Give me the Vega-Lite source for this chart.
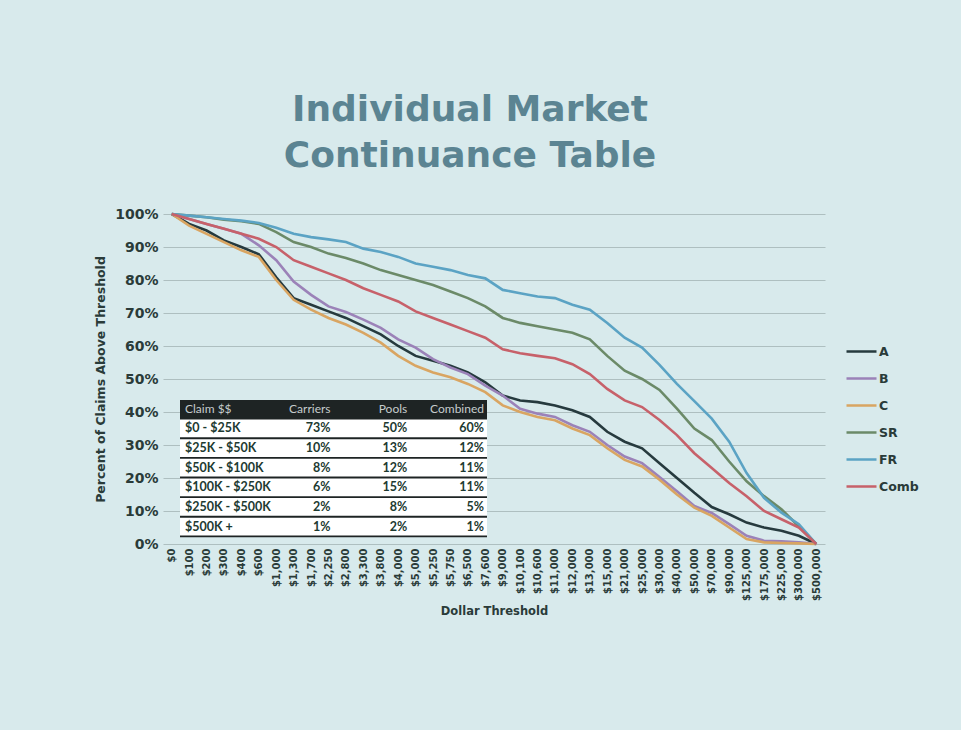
{
  "$schema": "https://vega.github.io/schema/vega-lite/v6.json",
  "width": 662,
  "height": 330,
  "autosize": {"type": "none"},
  "padding": {"left": 163, "top": 214, "right": 136, "bottom": 186},
  "background": "#d8eaec",
  "title": {
    "text": ["Individual Market", "Continuance Table"],
    "fontSize": 36,
    "font": "DejaVu Sans",
    "fontWeight": "bold",
    "color": "#5b8492",
    "lineHeight": 46,
    "offset": 32,
    "dx": -24,
    "anchor": "middle"
  },
  "datasets": {
    "curve": [
      {"t":"$0","A":100,"B":100,"C":100,"SR":100,"FR":100,"Comb":100},
      {"t":"$100","A":97,"B":98.5,"C":96.5,"SR":99.5,"FR":99.5,"Comb":98.5},
      {"t":"$200","A":95,"B":97,"C":94,"SR":99,"FR":99,"Comb":97},
      {"t":"$300","A":92,"B":95.5,"C":91.5,"SR":98.3,"FR":98.5,"Comb":95.5},
      {"t":"$400","A":90,"B":94,"C":89,"SR":97.8,"FR":98,"Comb":94},
      {"t":"$600","A":87.8,"B":90.5,"C":87,"SR":97,"FR":97.3,"Comb":92.5},
      {"t":"$1,000","A":80.8,"B":86,"C":80,"SR":94.5,"FR":95.8,"Comb":90},
      {"t":"$1,300","A":74.5,"B":79.5,"C":74,"SR":91.5,"FR":94,"Comb":86},
      {"t":"$1,700","A":72.5,"B":75.5,"C":71,"SR":90,"FR":93,"Comb":84},
      {"t":"$2,250","A":70.5,"B":72,"C":68.5,"SR":88,"FR":92.3,"Comb":82},
      {"t":"$2,800","A":68.5,"B":70.3,"C":66.5,"SR":86.7,"FR":91.5,"Comb":80},
      {"t":"$3,300","A":66,"B":68,"C":64,"SR":85,"FR":89.5,"Comb":77.5},
      {"t":"$3,800","A":63.5,"B":65.5,"C":61,"SR":83,"FR":88.5,"Comb":75.5},
      {"t":"$4,000","A":60,"B":62,"C":57,"SR":81.5,"FR":87,"Comb":73.5},
      {"t":"$5,000","A":57,"B":59.5,"C":54,"SR":80,"FR":85,"Comb":70.5},
      {"t":"$5,250","A":55.5,"B":56,"C":52,"SR":78.5,"FR":84,"Comb":68.5},
      {"t":"$5,750","A":54,"B":53.5,"C":50.5,"SR":76.5,"FR":83,"Comb":66.5},
      {"t":"$6,500","A":52,"B":51.5,"C":48.5,"SR":74.5,"FR":81.5,"Comb":64.5},
      {"t":"$7,600","A":49,"B":48,"C":46,"SR":72,"FR":80.5,"Comb":62.5},
      {"t":"$9,000","A":45,"B":45,"C":42,"SR":68.5,"FR":77,"Comb":59},
      {"t":"$10,100","A":43.5,"B":41,"C":40,"SR":67,"FR":76,"Comb":57.8},
      {"t":"$10,600","A":43,"B":39.5,"C":38.5,"SR":66,"FR":75,"Comb":57},
      {"t":"$11,000","A":42,"B":38.5,"C":37.5,"SR":65,"FR":74.5,"Comb":56.3},
      {"t":"$12,000","A":40.5,"B":36,"C":35,"SR":64,"FR":72.5,"Comb":54.5},
      {"t":"$13,000","A":38.5,"B":34,"C":33,"SR":62,"FR":71,"Comb":51.5},
      {"t":"$15,000","A":34,"B":30,"C":29,"SR":57,"FR":67,"Comb":47},
      {"t":"$21,000","A":31,"B":26.5,"C":25.5,"SR":52.5,"FR":62.5,"Comb":43.5},
      {"t":"$25,000","A":29,"B":24.5,"C":23.5,"SR":50,"FR":59.5,"Comb":41.5},
      {"t":"$30,000","A":24.5,"B":20.3,"C":19.5,"SR":46.7,"FR":54.3,"Comb":37.6},
      {"t":"$40,000","A":20,"B":16,"C":15,"SR":41,"FR":48.5,"Comb":33},
      {"t":"$50,000","A":15.5,"B":11.5,"C":11,"SR":35,"FR":43.3,"Comb":27.5},
      {"t":"$70,000","A":11.2,"B":9.4,"C":8.5,"SR":31.5,"FR":38,"Comb":23},
      {"t":"$90,000","A":9,"B":6,"C":5,"SR":25,"FR":31,"Comb":18.5},
      {"t":"$125,000","A":6.5,"B":2.5,"C":1.5,"SR":19,"FR":21.5,"Comb":14.5},
      {"t":"$175,000","A":5,"B":1,"C":0.5,"SR":14.5,"FR":14,"Comb":10},
      {"t":"$225,000","A":4,"B":0.8,"C":0.3,"SR":10.5,"FR":9.5,"Comb":7.5},
      {"t":"$300,000","A":2.5,"B":0.5,"C":0.2,"SR":5.3,"FR":6,"Comb":5},
      {"t":"$500,000","A":0,"B":0,"C":0,"SR":0,"FR":0,"Comb":0}
    ],
    "table": [
      {"row":"Claim $$","Carriers":"Carriers","Pools":"Pools","Combined":"Combined"},
      {"row":"$0 - $25K","Carriers":"73%","Pools":"50%","Combined":"60%"},
      {"row":"$25K - $50K","Carriers":"10%","Pools":"13%","Combined":"12%"},
      {"row":"$50K - $100K","Carriers":"8%","Pools":"12%","Combined":"11%"},
      {"row":"$100K - $250K","Carriers":"6%","Pools":"15%","Combined":"11%"},
      {"row":"$250K - $500K","Carriers":"2%","Pools":"8%","Combined":"5%"},
      {"row":"$500K +","Carriers":"1%","Pools":"2%","Combined":"1%"}
    ]
  },
  "layer": [
    {
      "layer": [
        {
          "data": {"values": [{"k": 1}]},
          "mark": {"type": "rect", "color": "#1e2424"},
          "encoding": {
            "x": {"datum": "Claim $$", "type": "nominal", "axis": null, "bandPosition": 0, "scale": {"type": "band", "domain": ["Claim $$","Carriers","Pools","Combined","_end"], "range": [17, 400.75], "paddingInner": 0, "paddingOuter": 0}},
            "x2": {"datum": "_end", "bandPosition": 0},
            "y": {"datum": "Claim $$", "type": "nominal", "axis": null, "bandPosition": 0, "scale": {"type": "band", "domain": ["Claim $$","$0 - $25K","$25K - $50K","$50K - $100K","$100K - $250K","$250K - $500K","$500K +","_end"], "range": [186, 341], "paddingInner": 0.1, "paddingOuter": 0}},
            "y2": {"datum": "_end", "bandPosition": 0}
          }
        },
        {
          "data": {"name": "table"},
          "mark": {"type": "rect"},
          "encoding": {
            "x": {"datum": "Claim $$", "type": "nominal", "axis": null, "bandPosition": 0, "scale": {"type": "band", "domain": ["Claim $$","Carriers","Pools","Combined","_end"], "range": [17, 400.75], "paddingInner": 0, "paddingOuter": 0}},
            "x2": {"datum": "_end", "bandPosition": 0},
            "y": {"field": "row", "type": "nominal", "axis": null, "scale": {"type": "band", "domain": ["Claim $$","$0 - $25K","$25K - $50K","$50K - $100K","$100K - $250K","$250K - $500K","$500K +","_end"], "range": [186, 341], "paddingInner": 0.1, "paddingOuter": 0}},
            "color": {"condition": {"test": "datum.row === 'Claim $$'", "value": "#1e2424"}, "value": "#ffffff"}
          }
        },
        {
          "data": {"name": "table"},
          "transform": [{"filter": "datum.row !== 'Claim $$'"}],
          "mark": {"type": "text", "align": "left", "baseline": "middle", "dx": 5, "font": "Lato", "fontSize": 12.5, "fontWeight": "bold", "color": "#1d3a31"},
          "encoding": {
            "x": {"datum": "Claim $$", "type": "nominal", "axis": null, "bandPosition": 0, "scale": {"type": "band", "domain": ["Claim $$","Carriers","Pools","Combined","_end"], "range": [17, 400.75], "paddingInner": 0, "paddingOuter": 0}},
            "y": {"field": "row", "type": "nominal", "axis": null, "bandPosition": 0.5, "scale": {"type": "band", "domain": ["Claim $$","$0 - $25K","$25K - $50K","$50K - $100K","$100K - $250K","$250K - $500K","$500K +","_end"], "range": [186, 341], "paddingInner": 0.1, "paddingOuter": 0}},
            "text": {"field": "row"}
          }
        },
        {
          "data": {"name": "table"},
          "transform": [{"filter": "datum.row !== 'Claim $$'"}, {"fold": ["Carriers","Pools","Combined"], "as": ["col","txt"]}],
          "mark": {"type": "text", "align": "right", "baseline": "middle", "dx": -3, "font": "Lato", "fontSize": 12.5, "fontWeight": "bold", "color": "#1d3a31"},
          "encoding": {
            "x": {"field": "col", "type": "nominal", "axis": null, "bandPosition": 1, "scale": {"type": "band", "domain": ["Claim $$","Carriers","Pools","Combined","_end"], "range": [17, 400.75], "paddingInner": 0, "paddingOuter": 0}},
            "y": {"field": "row", "type": "nominal", "axis": null, "bandPosition": 0.5, "scale": {"type": "band", "domain": ["Claim $$","$0 - $25K","$25K - $50K","$50K - $100K","$100K - $250K","$250K - $500K","$500K +","_end"], "range": [186, 341], "paddingInner": 0.1, "paddingOuter": 0}},
            "text": {"field": "txt"}
          }
        },
        {
          "data": {"name": "table"},
          "transform": [{"filter": "datum.row === 'Claim $$'"}],
          "mark": {"type": "text", "align": "left", "baseline": "middle", "dx": 5, "font": "Lato", "fontSize": 12, "color": "#c5cccc"},
          "encoding": {
            "x": {"datum": "Claim $$", "type": "nominal", "axis": null, "bandPosition": 0, "scale": {"type": "band", "domain": ["Claim $$","Carriers","Pools","Combined","_end"], "range": [17, 400.75], "paddingInner": 0, "paddingOuter": 0}},
            "y": {"field": "row", "type": "nominal", "axis": null, "bandPosition": 0.5, "scale": {"type": "band", "domain": ["Claim $$","$0 - $25K","$25K - $50K","$50K - $100K","$100K - $250K","$250K - $500K","$500K +","_end"], "range": [186, 341], "paddingInner": 0.1, "paddingOuter": 0}},
            "text": {"field": "row"}
          }
        },
        {
          "data": {"name": "table"},
          "transform": [{"filter": "datum.row === 'Claim $$'"}, {"fold": ["Carriers","Pools","Combined"], "as": ["col","txt"]}],
          "mark": {"type": "text", "align": "right", "baseline": "middle", "dx": -3, "font": "Lato", "fontSize": 12, "color": "#c5cccc"},
          "encoding": {
            "x": {"field": "col", "type": "nominal", "axis": null, "bandPosition": 1, "scale": {"type": "band", "domain": ["Claim $$","Carriers","Pools","Combined","_end"], "range": [17, 400.75], "paddingInner": 0, "paddingOuter": 0}},
            "y": {"field": "row", "type": "nominal", "axis": null, "bandPosition": 0.5, "scale": {"type": "band", "domain": ["Claim $$","$0 - $25K","$25K - $50K","$50K - $100K","$100K - $250K","$250K - $500K","$500K +","_end"], "range": [186, 341], "paddingInner": 0.1, "paddingOuter": 0}},
            "text": {"field": "txt"}
          }
        }
      ]
    },
    {
      "data": {"name": "curve"},
      "transform": [{"fold": ["A","B","C","SR","FR","Comb"], "as": ["s","v"]}],
      "mark": {"type": "line", "strokeWidth": 2.6},
      "encoding": {
        "x": {
          "field": "t", "type": "ordinal", "sort": null,
          "scale": {"type": "point", "padding": 0.5},
          "axis": {"title": "Dollar Threshold", "labelAngle": -90, "labelFontSize": 10, "labelPadding": 4, "labelOverlap": false, "titleFontSize": 11.5, "titlePadding": 5, "grid": false}
        },
        "y": {
          "field": "v", "type": "quantitative",
          "scale": {"domain": [0, 100]},
          "axis": {"title": "Percent of Claims Above Threshold", "values": [0,10,20,30,40,50,60,70,80,90,100], "labelExpr": "datum.value + '%'", "labelFontSize": 14, "labelPadding": 5, "titleFontSize": 12.5, "titlePadding": 7, "grid": true}
        },
        "color": {
          "field": "s", "type": "nominal",
          "scale": {"domain": ["A","B","C","SR","FR","Comb"], "range": ["#263a3e","#9b82b8","#d9a562","#6b8a68","#5ba3c4","#c7616a"]},
          "legend": {"title": null, "orient": "none", "legendX": 682, "legendY": 121, "symbolType": "stroke", "symbolSize": 900, "symbolStrokeWidth": 2.5, "labelFont": "DejaVu Sans", "labelFontWeight": "bold", "labelFontSize": 12.5, "labelColor": "#2a3b39", "rowPadding": 4, "labelOffset": 1, "padding": 0}
        }
      }
    }
  ],
  "resolve": {"scale": {"x": "independent", "y": "independent"}},
  "config": {
    "view": {"stroke": null},
    "axis": {"domain": false, "ticks": false, "labelFont": "DejaVu Sans", "labelFontWeight": "bold", "labelColor": "#2a3b39", "titleFont": "DejaVu Sans", "titleFontWeight": "bold", "titleColor": "#2a3b39", "gridColor": "#aebfc0", "gridWidth": 1}
  }
}
